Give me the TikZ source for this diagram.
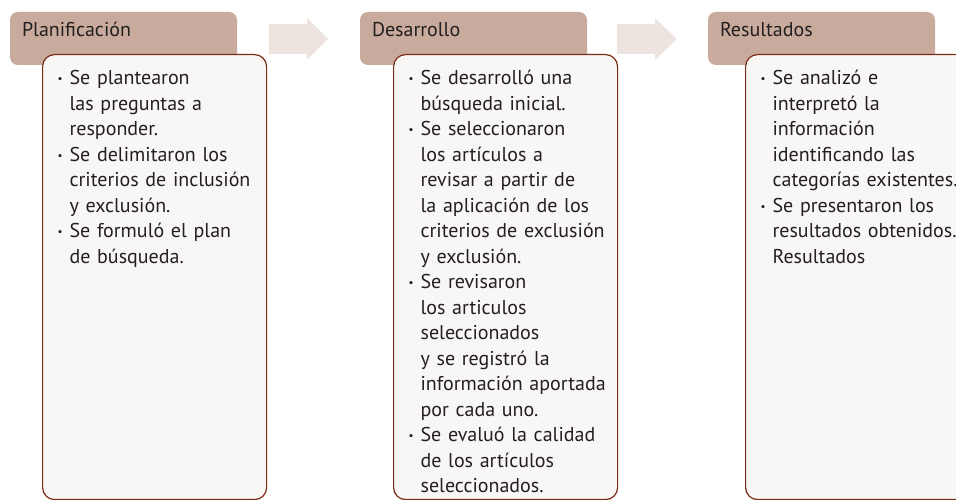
\documentclass[tikz,border=0pt]{standalone}
\usepackage{fontspec}
\setmainfont{PT Sans}
\usetikzlibrary{positioning}
\definecolor{head_fill}{RGB}{201,171,157}
\definecolor{box_fill}{RGB}{248,247,245}
\definecolor{box_line}{RGB}{122,42,22}
\definecolor{arrow_fill}{RGB}{237,228,223}
\definecolor{ink}{RGB}{35,31,32}

\newcommand{\bitem}{\leavevmode\llap{\raisebox{2pt}{\fontsize{11}{11}\selectfont\textbullet}\hspace{7pt}}}

\tikzset{
    phase/.style={fill=head_fill, rounded corners=8pt, inner xsep=12pt, inner ysep=0pt,
        text width=203pt, text height=25pt, text depth=28pt, align=left, text=ink,
        font=\fontsize{20}{25.5}\selectfont},
    stepbox/.style={fill=box_fill, draw=box_line, line width=1.2pt, rounded corners=12pt,
        inner xsep=6pt, inner ysep=0pt, text width=212pt, text height=30pt, text depth=415pt,
        align=left, text=ink, font=\fontsize{20}{25.5}\selectfont,
        execute at begin node={\hyphenpenalty=10000\relax\leftskip=21pt\relax}},
    flow/.style={fill=arrow_fill}
}

\begin{document}
\begin{tikzpicture}[x=1pt, y=1pt]
    \clip (0,0) rectangle (956,500);
    \useasboundingbox (0,0) rectangle (956,500);

    \node[phase] (plan) at (123.5,461.5) {Planificación};
    \node[phase] (desa) at (473.5,461.5) {Desarrollo};
    \node[phase] (resu) at (821.5,461.5) {Resultados};

    \node[stepbox, anchor=north west] (planbox) at (42,446) {%
        \bitem Se plantearon\\ las preguntas a\\ responder.\\
        \bitem Se delimitaron los\\ criterios de inclusión\\ y exclusión.\\
        \bitem Se formuló el plan\\ de búsqueda.\par};
    \node[stepbox, anchor=north west] (desabox) at (393,446) {%
        \bitem Se desarrolló una\\ búsqueda inicial.\\
        \bitem Se seleccionaron\\ los artículos a\\ revisar a partir de\\ la aplicación de los\\ criterios de exclusión\\ y exclusión.\\
        \bitem Se revisaron\\ los articulos\\ seleccionados\\ y se registró la\\ información aportada\\ por cada uno.\\
        \bitem Se evaluó la calidad\\ de los artículos\\ seleccionados.\par};
    \node[stepbox, anchor=north west] (resubox) at (745,446) {%
        \bitem Se analizó e\\ interpretó la\\ información\\ identificando las\\ categorías existentes.\\
        \bitem Se presentaron los\\ resultados obtenidos.\\ Resultados\par};

    % arrows between the phases
    \fill[flow] (269,476) -- (307,476) -- (307,482) -- (328,461) -- (307,440) -- (307,446) -- (269,446) -- cycle;
    \fill[flow] (617,476) -- (655,476) -- (655,482) -- (677,461) -- (655,440) -- (655,446) -- (617,446) -- cycle;

\end{tikzpicture}
\end{document}
